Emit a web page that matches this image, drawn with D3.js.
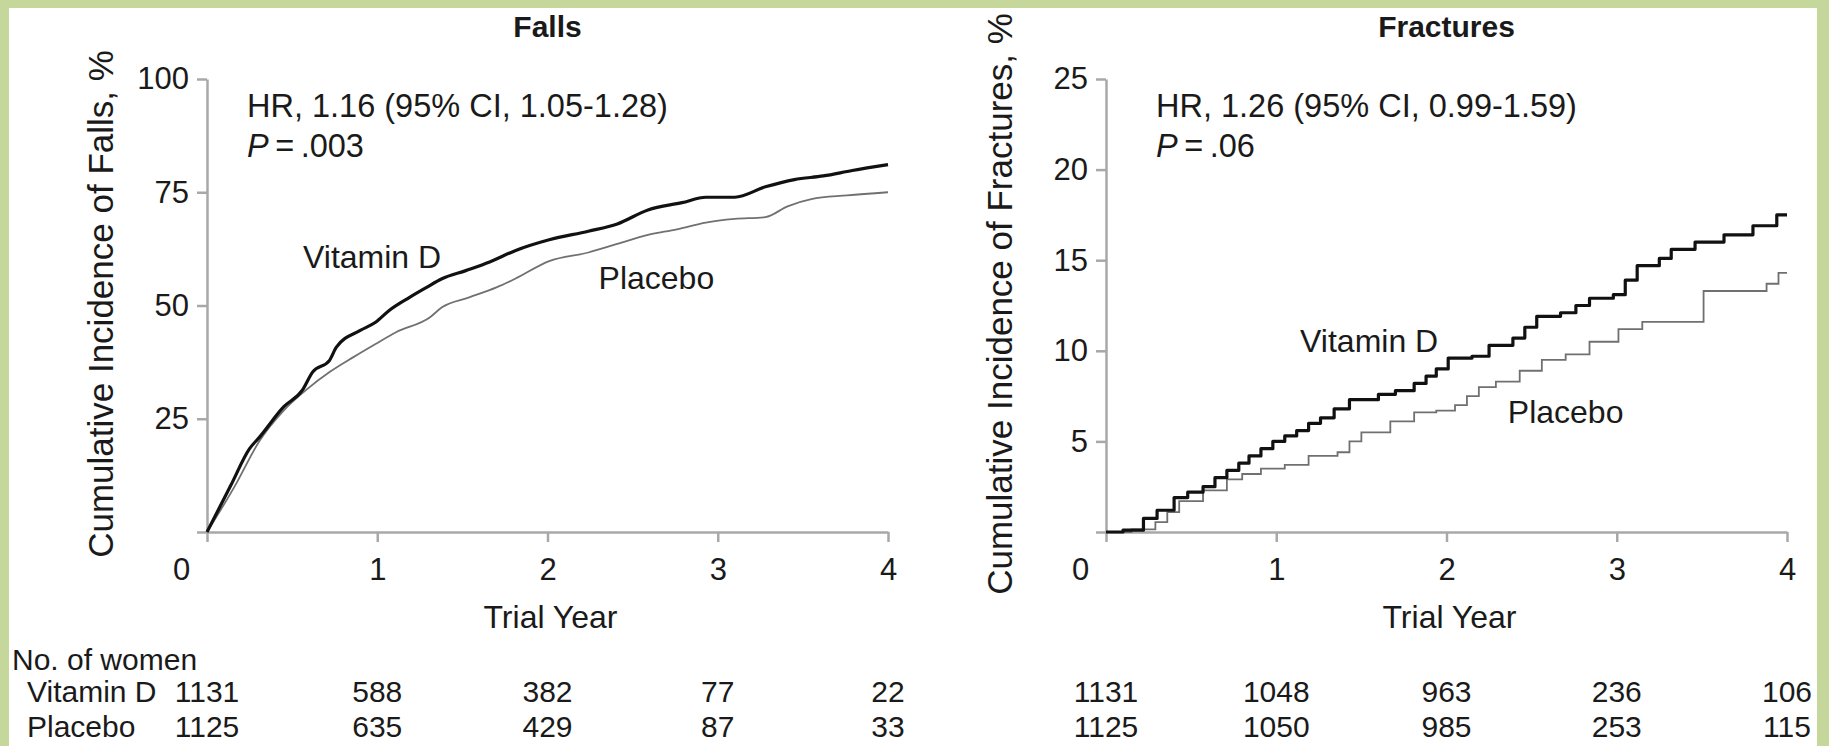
<!DOCTYPE html>
<html>
<head>
<meta charset="utf-8">
<style>
body { margin: 0; background: #c6d79c; }
svg { display: block; font-family: "Liberation Sans", Arial, Helvetica, sans-serif; }
.axis .domain, .axis line { stroke: #a8a8a8; stroke-width: 2.5px; }
.axis text { font-family: "Liberation Sans", Arial, sans-serif; font-size: 31px; fill: #1a1a1a; }
.lbl { font-size: 32px; fill: #1a1a1a; }
.hr { font-size: 32.5px; fill: #1a1a1a; }
.tbl { font-size: 30px; fill: #1a1a1a; }
</style>
</head>
<body>
<svg id="chart" width="1829" height="746"></svg>
<script src="https://d3js.org/d3.v7.min.js"></script>
<script>
// trial years on the x axis
var years = [0, 1, 2, 3, 4];

// cumulative incidence of falls, % (year, value)
var fallsVitaminD = [[0,0],[0.14,10.3],[0.25,18.4],[0.31,21],[0.45,27.6],[0.56,31.3],[0.62,35.3],[0.72,37.9],
  [0.76,40.8],[0.9,44.5],[0.99,46.3],[1.07,48.9],[1.19,51.8],[1.29,54],[1.38,55.9],[1.52,57.7],[1.66,59.6],
  [1.81,62.1],[2.01,64.5],[2.24,66.4],[2.41,68],[2.59,71.1],[2.79,72.7],[2.93,73.9],[3.1,73.9],[3.28,76.2],
  [3.45,77.8],[3.62,78.6],[3.79,79.8],[4.0,81.1]];
var fallsPlacebo = [[0,0],[0.16,9.9],[0.31,20.2],[0.45,26.8],[0.59,31.6],[0.72,35.3],[0.86,38.6],[0.99,41.5],
  [1.11,44.1],[1.31,47.4],[1.38,49.6],[1.54,51.8],[1.7,54],[1.81,55.9],[2.01,59.8],[2.24,61.7],[2.41,63.6],
  [2.59,65.6],[2.76,66.8],[2.93,68.3],[3.1,69.1],[3.28,69.5],[3.41,71.9],[3.55,73.5],[3.76,74.3],[4.0,75]];

// cumulative incidence of fractures, %
var fracturesVitaminD = [[0,0],[0.1,0.1],[0.22,0.75],[0.3,1.2],[0.4,1.9],[0.48,2.2],[0.57,2.5],[0.64,3.0],[0.71,3.4],
  [0.78,3.8],[0.84,4.2],[0.91,4.6],[0.98,5.0],[1.05,5.3],[1.12,5.6],[1.19,6.0],[1.26,6.3],[1.34,6.8],[1.43,7.3],
  [1.6,7.6],[1.7,7.8],[1.81,8.2],[1.88,8.6],[1.94,9.0],[2.01,9.6],[2.15,9.7],[2.25,10.3],[2.39,10.7],[2.46,11.3],
  [2.53,11.9],[2.67,12.1],[2.76,12.5],[2.84,12.9],[2.98,13.1],[3.05,13.9],[3.12,14.7],[3.25,15.1],[3.32,15.6],
  [3.46,16.0],[3.63,16.4],[3.8,16.9],[3.94,17.5],[4.0,17.5]];
var fracturesPlacebo = [[0,0],[0.15,0.15],[0.29,0.55],[0.36,1.1],[0.43,1.7],[0.57,2.3],[0.71,2.9],[0.8,3.2],
  [0.91,3.5],[1.05,3.7],[1.19,4.2],[1.36,4.4],[1.43,5.0],[1.5,5.5],[1.67,6.1],[1.81,6.6],[1.94,6.7],[2.05,7.0],
  [2.12,7.5],[2.19,8.0],[2.29,8.3],[2.43,8.9],[2.56,9.5],[2.7,9.8],[2.84,10.5],[3.01,11.2],[3.15,11.6],
  [3.51,13.3],[3.88,13.7],[3.95,14.3],[4.0,14.3]];

// number of women at risk
var fallsAtRiskVitaminD = [1131, 588, 382, 77, 22];
var fallsAtRiskPlacebo = [1125, 635, 429, 87, 33];
var fracturesAtRiskVitaminD = [1131, 1048, 963, 236, 106];
var fracturesAtRiskPlacebo = [1125, 1050, 985, 253, 115];

var svg = d3.select("#chart");
svg.append("rect").attr("x", 9).attr("y", 8).attr("width", 1808).attr("height", 738).attr("fill", "#fff");

var top_y = 79, bottom_y = 532;

function drawPanel(p) {
  var x = d3.scaleLinear().domain([0, 4]).range([p.left, p.right]);
  var y = d3.scaleLinear().domain([0, p.yMax]).range([bottom_y, top_y]);
  var g = svg.append("g");

  g.append("g").attr("class", "axis")
    .attr("transform", "translate(" + p.left + ",0)")
    .call(d3.axisLeft(y).tickValues(p.yTicks).tickSize(10).tickPadding(8).tickSizeOuter(0)
      .tickFormat(function(d) { return d === 0 ? "" : d; }));

  g.append("g").attr("class", "axis")
    .attr("transform", "translate(0," + bottom_y + ")")
    .call(d3.axisBottom(x).tickValues(years).tickSize(10).tickPadding(16).tickSizeOuter(0)
      .tickFormat(d3.format("d")))
    .selectAll(".tick text").attr("dx", function(d) { return d === 0 ? -26 : 0; });

  var line = d3.line()
    .x(function(d) { return x(d[0]); })
    .y(function(d) { return y(d[1]); })
    .curve(p.curve);

  g.append("path").datum(p.placebo)
    .attr("fill", "none").attr("stroke", "#707070").attr("stroke-width", 1.8)
    .attr("d", line);
  g.append("path").datum(p.vitaminD)
    .attr("fill", "none").attr("stroke", "#111").attr("stroke-width", 3.2)
    .attr("stroke-linejoin", "round")
    .attr("d", line);

  // titles
  g.append("text").attr("x", (p.left + p.right) / 2).attr("y", 37)
    .attr("text-anchor", "middle").style("font-size", "30px").style("font-weight", "bold")
    .attr("fill", "#1a1a1a").text(p.title);
  g.append("text").attr("class", "lbl").attr("x", (p.left + p.right) / 2 + 3).attr("y", 628)
    .attr("text-anchor", "middle").text("Trial Year");
  g.append("text").attr("transform", "translate(" + (p.left - 94) + ",304) rotate(-90)")
    .attr("text-anchor", "middle").style("font-size", "35px").attr("fill", "#1a1a1a")
    .text(p.yTitle);

  // hazard ratio
  g.append("text").attr("class", "hr").attr("x", p.left + p.hrOffset).attr("y", 117).text(p.hr);
  var pt = g.append("text").attr("class", "hr").attr("x", p.left + p.hrOffset).attr("y", 157);
  pt.append("tspan").style("font-style", "italic").text("P");
  pt.append("tspan").text("\u2009=\u2009" + p.pval);

  // curve labels
  g.append("text").attr("class", "lbl").attr("x", x(p.vitLabel[0])).attr("y", y(p.vitLabel[1])).text("Vitamin D");
  g.append("text").attr("class", "lbl").attr("x", x(p.plaLabel[0])).attr("y", y(p.plaLabel[1])).text("Placebo");

  // at-risk table
  g.selectAll(".nv").data(p.riskVit).enter().append("text").attr("class", "tbl")
    .attr("x", function(d, i) { return x(years[i]); }).attr("y", 702)
    .attr("text-anchor", "middle").text(function(d) { return d; });
  g.selectAll(".np").data(p.riskPla).enter().append("text").attr("class", "tbl")
    .attr("x", function(d, i) { return x(years[i]); }).attr("y", 737)
    .attr("text-anchor", "middle").text(function(d) { return d; });
}

drawPanel({
  left: 207, right: 888, yMax: 100, yTicks: [0, 25, 50, 75, 100],
  title: "Falls", yTitle: "Cumulative Incidence of Falls, %",
  hr: "HR, 1.16 (95% CI, 1.05-1.28)", pval: ".003", hrOffset: 40,
  vitaminD: fallsVitaminD, placebo: fallsPlacebo, curve: d3.curveMonotoneX,
  vitLabel: [0.564, 58.3], plaLabel: [2.30, 53.6],
  riskVit: fallsAtRiskVitaminD, riskPla: fallsAtRiskPlacebo
});

drawPanel({
  left: 1106, right: 1787, yMax: 25, yTicks: [0, 5, 10, 15, 20, 25],
  title: "Fractures", yTitle: "Cumulative Incidence of Fractures, %",
  hr: "HR, 1.26 (95% CI, 0.99-1.59)", pval: ".06", hrOffset: 50,
  vitaminD: fracturesVitaminD, placebo: fracturesPlacebo, curve: d3.curveStepAfter,
  vitLabel: [1.14, 9.93], plaLabel: [2.36, 6.02],
  riskVit: fracturesAtRiskVitaminD, riskPla: fracturesAtRiskPlacebo
});

svg.append("text").attr("class", "tbl").attr("x", 12).attr("y", 670).text("No. of women");
svg.append("text").attr("class", "tbl").attr("x", 27).attr("y", 702).text("Vitamin D");
svg.append("text").attr("class", "tbl").attr("x", 27).attr("y", 737).text("Placebo");
</script>
</body>
</html>
